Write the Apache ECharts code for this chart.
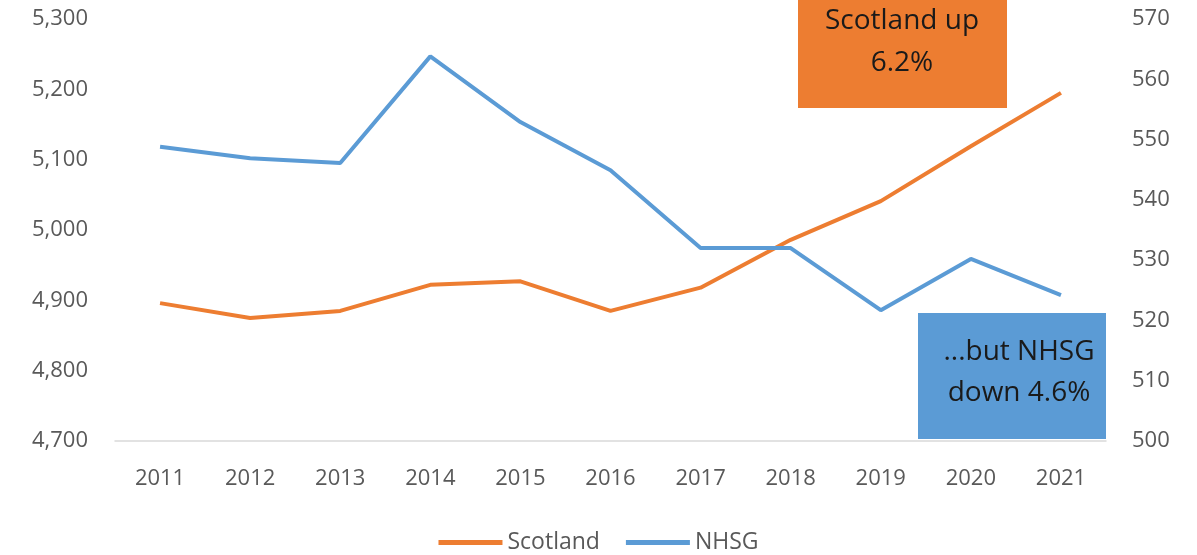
<!DOCTYPE html>
<html>
<head>
<meta charset="utf-8">
<script src="https://cdn.jsdelivr.net/npm/echarts@6/dist/echarts.min.js"></script>
<style>html,body{margin:0;padding:0;background:#fff}#c{width:1197px;height:555px}</style>
</head>
<body>
<div id="c"></div>
<script>
const years = ['2011','2012','2013','2014','2015','2016','2017','2018','2019','2020','2021'];
const scotland = [4896, 4875, 4885, 4922, 4927, 4885, 4918, 4986, 5041, 5119, 5195];
const nhsg = [548.8, 546.9, 546.1, 563.8, 552.9, 544.9, 532.0, 532.0, 521.7, 530.2, 524.2];
const leftAxis = {min: 4700, max: 5300, interval: 100};
const rightAxis = {min: 500, max: 570, interval: 10};
const noteScotland = ['Scotland up', '6.2%'];
const noteNhsg = ['...but NHSG', 'down 4.6%'];

const FONT = '"Open Sans", sans-serif';
const GRAY = '#595959';
const chart = echarts.init(document.getElementById('c'));
chart.setOption({
  animation: false,
  grid: {left: 115, right: 91, top: 19, bottom: 114, containLabel: false},
  legend: {
    top: 526, left: 'center',
    data: ['Scotland', 'NHSG'],
    icon: 'rect', itemWidth: 64, itemHeight: 5, itemGap: 26,
    textStyle: {color: GRAY, fontSize: 23, fontFamily: FONT, padding: [0, 0, 0, 0]}
  },
  xAxis: {
    type: 'category', data: years, boundaryGap: true,
    axisLine: {lineStyle: {color: '#d9d9d9', width: 1.5}},
    axisTick: {show: false},
    axisLabel: {color: GRAY, fontSize: 22, fontFamily: FONT, margin: 27}
  },
  yAxis: [
    {type: 'value', min: leftAxis.min, max: leftAxis.max, interval: leftAxis.interval,
     position: 'left', splitLine: {show: false}, axisLine: {show: false}, axisTick: {show: false},
     axisLabel: {color: GRAY, fontSize: 22, fontFamily: FONT, margin: 27,
       formatter: v => v.toLocaleString('en-US')}},
    {type: 'value', min: rightAxis.min, max: rightAxis.max, interval: rightAxis.interval,
     position: 'right', alignTicks: false, splitLine: {show: false}, axisLine: {show: false}, axisTick: {show: false},
     axisLabel: {color: GRAY, fontSize: 22, fontFamily: FONT, margin: 26}}
  ],
  series: [
    {name: 'Scotland', type: 'line', yAxisIndex: 0, data: scotland, symbol: 'none',
     lineStyle: {color: '#ED7D31', width: 4}, itemStyle: {color: '#ED7D31'}},
    {name: 'NHSG', type: 'line', yAxisIndex: 1, data: nhsg, symbol: 'none',
     lineStyle: {color: '#5B9BD5', width: 4}, itemStyle: {color: '#5B9BD5'}}
  ],
  graphic: [
    {type: 'rect', left: 798, top: 0, shape: {width: 209, height: 108}, style: {fill: '#ED7D31'}, z: 100},
    {type: 'text', x: 902, y: 42, z: 101, style: {text: noteScotland.join('\n'), fill: '#1a1a1a',
      font: '28px "Open Sans", sans-serif', align: 'center', verticalAlign: 'middle', lineHeight: 42}},
    {type: 'rect', left: 918, top: 313, shape: {width: 188, height: 126}, style: {fill: '#5B9BD5'}, z: 100},
    {type: 'text', x: 1019, y: 373, z: 101, style: {text: noteNhsg.join('\n'), fill: '#1a1a1a',
      font: '28px "Open Sans", sans-serif', align: 'center', verticalAlign: 'middle', lineHeight: 41}}
  ]
});
</script>
</body>
</html>
